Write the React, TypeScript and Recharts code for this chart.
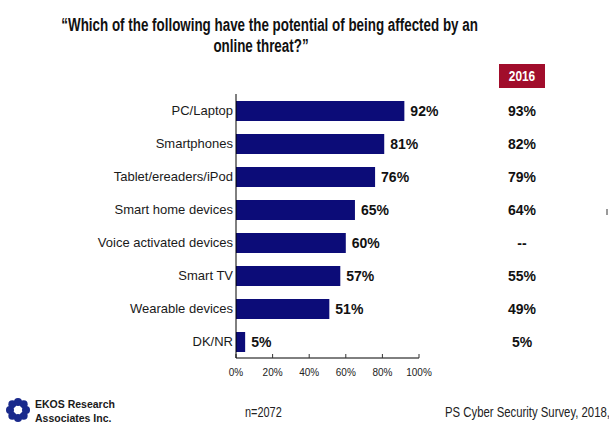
import React from "react";
import { BarChart, Bar, XAxis, YAxis, LabelList } from "recharts";

const categories = [
  "PC/Laptop",
  "Smartphones",
  "Tablet/ereaders/iPod",
  "Smart home devices",
  "Voice activated devices",
  "Smart TV",
  "Wearable devices",
  "DK/NR",
];
const values2018 = [92, 81, 76, 65, 60, 57, 51, 5];
const values2016: (number | null)[] = [93, 82, 79, 64, null, 55, 49, 5];
const xTicks = [0, 20, 40, 60, 80, 100];

const data = categories.map((name, i) => ({
  name,
  value: values2018[i],
  prev: values2016[i],
}));

const ARIAL = "'Liberation Sans', Arial, sans-serif";

function PrevTick(props: any) {
  const { x, y, index } = props;
  const v = values2016[index];
  return (
    <text
      x={x + 103}
      y={y}
      dy={5}
      textAnchor="middle"
      fontFamily={ARIAL}
      fontSize={14}
      fontWeight="bold"
      fill="#111"
    >
      {v == null ? "--" : `${v}%`}
    </text>
  );
}

function Logo() {
  const dots = Array.from({ length: 8 }, (_, i) => (i * Math.PI) / 4);
  return (
    <svg width={28} height={26} style={{ position: "absolute", left: 4, top: 397 }}>
      {dots.map((a, i) => (
        <circle
          key={i}
          cx={14 + Math.cos(a) * 8}
          cy={13 + Math.sin(a) * 8}
          r={4}
          fill="#1a2a8c"
        />
      ))}
      <circle cx={14} cy={13} r={4} fill="#fff" />
    </svg>
  );
}

const narrow = (scale: number): React.CSSProperties => ({
  transform: `scaleX(${scale})`,
  whiteSpace: "nowrap",
});

export default function App() {
  return (
    <div
      style={{
        position: "absolute",
        left: 0,
        top: 0,
        width: 609,
        height: 425,
        background: "#fff",
        overflow: "hidden",
      }}
    >
      <div
        style={{
          position: "absolute",
          left: 0,
          top: 15,
          width: 522,
          textAlign: "center",
          fontFamily: ARIAL,
          fontWeight: "bold",
          fontSize: 17.5,
          lineHeight: "21px",
          color: "#111",
        }}
      >
        <div style={{ ...narrow(0.765), transformOrigin: "center" }}>
          “Which of the following have the potential of being affected by an
        </div>
        <div style={{ ...narrow(0.765), transformOrigin: "center" }}>online threat?”</div>
      </div>
      <div
        style={{
          position: "absolute",
          left: 499,
          top: 64,
          width: 46,
          height: 24,
          background: "#a10d2b",
          color: "#fff",
          fontFamily: ARIAL,
          fontWeight: "bold",
          fontSize: 14,
          lineHeight: "24px",
          textAlign: "center",
        }}
      >
        <div style={{ ...narrow(0.85), transformOrigin: "center" }}>2016</div>
      </div>
      <div
        style={{
          position: "absolute",
          left: 606,
          top: 209,
          width: 2,
          height: 6,
          background: "#9a9a9a",
        }}
      />
      <BarChart
        width={609}
        height={425}
        data={data}
        layout="vertical"
        margin={{ top: 94, right: 0, bottom: 37, left: 0 }}
        barCategoryGap={13}
        style={{ position: "absolute", left: 0, top: 0 }}
      >
        <XAxis
          type="number"
          domain={[0, 100]}
          ticks={xTicks}
          tickFormatter={(v) => `${v}%`}
          height={30}
          axisLine={{ stroke: "#000" }}
          tickLine={{ stroke: "#333" }}
          tickSize={-4}
          tickMargin={15}
          tick={{ fontFamily: ARIAL, fontSize: 10, fill: "#222" }}
          interval={0}
        />
        <YAxis
          type="category"
          dataKey="name"
          width={236}
          axisLine={{ stroke: "#000" }}
          tickLine={false}
          tickSize={0}
          tickMargin={3}
          tick={{ fontFamily: ARIAL, fontSize: 13, fill: "#1a1a1a" }}
          interval={0}
        />
        <YAxis
          yAxisId="right"
          type="category"
          dataKey="name"
          orientation="right"
          width={190}
          axisLine={false}
          tickLine={false}
          tickSize={0}
          tickMargin={0}
          tick={<PrevTick />}
          interval={0}
        />
        <Bar dataKey="value" fill="#0c0c78" barSize={20} isAnimationActive={false}>
          <LabelList
            dataKey="value"
            position="right"
            offset={6}
            formatter={(v: any) => `${v}%`}
            style={{ fontFamily: ARIAL, fontSize: 14, fontWeight: "bold", fill: "#111" }}
          />
        </Bar>
      </BarChart>
      <Logo />
      <div
        style={{
          position: "absolute",
          left: 35,
          top: 397,
          fontFamily: ARIAL,
          fontWeight: "bold",
          fontSize: 10.5,
          lineHeight: "14px",
          color: "#1a1a1a",
        }}
      >
        <div>EKOS Research</div>
        <div>Associates Inc.</div>
      </div>
      <div
        style={{
          position: "absolute",
          left: 245,
          top: 404,
          fontFamily: ARIAL,
          fontSize: 14,
          color: "#222",
          ...narrow(0.78),
          transformOrigin: "left",
        }}
      >
        n=2072
      </div>
      <div
        style={{
          position: "absolute",
          left: 445,
          top: 404,
          fontFamily: ARIAL,
          fontSize: 14,
          color: "#222",
          ...narrow(0.81),
          transformOrigin: "left",
        }}
      >
        PS Cyber Security Survey, 2018,
      </div>
    </div>
  );
}
